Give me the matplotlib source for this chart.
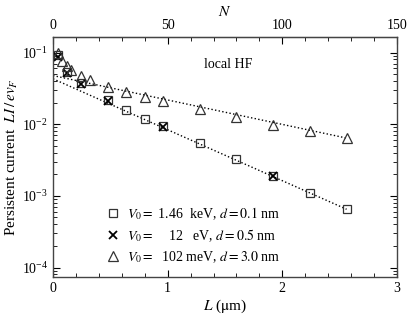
import matplotlib
matplotlib.use('Agg')
import matplotlib.pyplot as plt
import numpy as np
from matplotlib.ticker import MultipleLocator, FixedLocator, LogLocator, NullFormatter

plt.rcParams['font.family'] = 'serif'
plt.rcParams['font.serif'] = ['Liberation Serif', 'DejaVu Serif']
plt.rcParams['mathtext.fontset'] = 'stix'

# V0 = 1.46 keV, d = 0.1 nm
L_sq = [0.04, 0.12, 0.24, 0.48, 0.64, 0.80, 0.96, 1.28, 1.60, 1.92, 2.24, 2.56]
I_sq = [0.093, 0.053, 0.037, 0.022, 0.0159, 0.0119, 0.0093, 0.0055, 0.0033, 0.0019, 0.00109, 0.00066]

# V0 = 12 eV, d = 0.5 nm
L_x = [0.04, 0.12, 0.24, 0.48, 0.96, 1.92]
I_x = [0.088, 0.051, 0.036, 0.021, 0.0091, 0.0019]

# V0 = 102 meV, d = 3.0 nm
L_tr = [0.04, 0.08, 0.12, 0.16, 0.24, 0.32, 0.48, 0.64, 0.80, 0.96, 1.28, 1.60, 1.92, 2.24, 2.56]
I_tr = [0.098, 0.075, 0.064, 0.057, 0.047, 0.042, 0.033, 0.028, 0.024, 0.021, 0.0163, 0.0126, 0.0098, 0.0081, 0.0064]

# dotted exponential fits (end points)
fit_L = [0.0, 2.56]
fit_sq = [0.043, 0.00065]
fit_tr = [0.0477, 0.0064]

N_ticks = [0, 50, 100, 150]

labels = [r'$V_0 =$ 1.46  keV, $d = 0.1$ nm',
          r'$V_0 =$    12   eV, $d = 0.5$ nm',
          r'$V_0 =$  102 meV, $d = 3.0$ nm']

fig = plt.figure(figsize=(4.15, 3.18), dpi=100)
ax = fig.add_axes([0.1277, 0.128, 0.829, 0.757])

ax.plot(fit_L, fit_sq, ':', color='black', lw=1.0)
ax.plot(fit_L, fit_tr, ':', color='black', lw=1.0)

h1, = ax.plot(L_sq, I_sq, 's', ms=6, mfc='none', mec='#333333', mew=0.9, label=labels[0])
h2, = ax.plot(L_x, I_x, 'x', ms=5.5, color='black', mew=1.3, label=labels[1])
h3, = ax.plot(L_tr, I_tr, '^', ms=7.5, mfc='none', mec='#333333', mew=0.9, label=labels[2])

ax.set_yscale('log')
ax.set_xlim(0, 3)
ax.set_ylim(7.3e-5, 0.167)

ax.xaxis.set_major_locator(MultipleLocator(1))
ax.xaxis.set_minor_locator(MultipleLocator(0.2))
ax.yaxis.set_major_locator(LogLocator(base=10, numticks=10))
ax.yaxis.set_minor_locator(LogLocator(base=10, subs=np.arange(2, 10), numticks=10))
ax.yaxis.set_minor_formatter(NullFormatter())

ax.tick_params(which='both', direction='in', right=True, top=False, labelsize=10)
ax.tick_params(which='major', length=5)
ax.tick_params(which='minor', length=3)

for s in ax.spines.values():
    s.set_linewidth(1.0)
    s.set_color('#444444')

sec = ax.secondary_xaxis('top', functions=(lambda L: 50 * np.asarray(L), lambda N: np.asarray(N) / 50))
sec.xaxis.set_major_locator(FixedLocator(N_ticks))
sec.xaxis.set_minor_locator(MultipleLocator(10))
sec.tick_params(which='both', direction='in', labelsize=10)
sec.tick_params(which='major', length=5)
sec.tick_params(which='minor', length=3)
sec.set_xlabel(r'$N$', fontsize=11, labelpad=2)

ax.set_xlabel(r'$L$ ($\mathrm{\mu}$m)', fontsize=11, labelpad=2)
ax.set_ylabel(r'Persistent current  $LI\,/\,ev_F$', fontsize=11, labelpad=1)

ax.text(0.509, 0.882, 'local HF', transform=ax.transAxes, ha='center', va='center', fontsize=10)

ax.legend(handles=[h1, h2, h3], loc='lower left', bbox_to_anchor=(0.125, 0.01),
          frameon=False, fontsize=10, handlelength=1.0, handletextpad=0.5,
          labelspacing=0.4, borderpad=0.2)

fig.savefig('out.png', dpi=100)
